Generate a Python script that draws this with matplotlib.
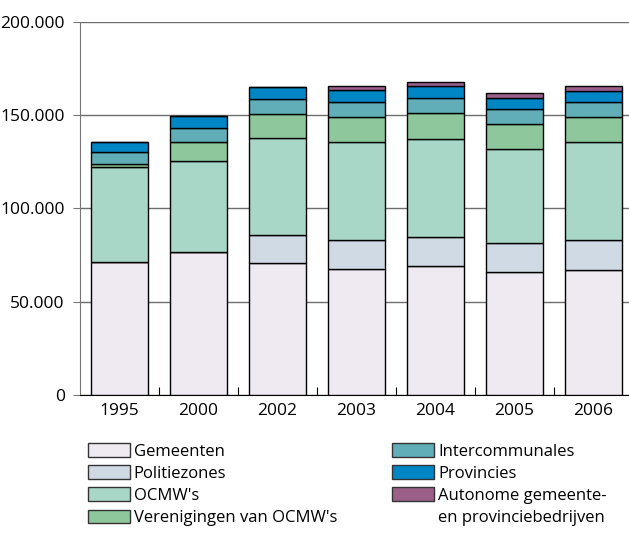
import numpy as np
import matplotlib
matplotlib.use("Agg")
import matplotlib.pyplot as plt
from matplotlib.patches import Patch
from matplotlib.ticker import FuncFormatter

plt.rcParams['font.family'] = ['Open Sans', 'DejaVu Sans']

years = ['1995', '2000', '2002', '2003', '2004', '2005', '2006']

gemeenten = [71400, 76750, 70700, 67350, 68950, 65900, 66950]
politiezones = [0, 0, 15150, 15700, 15700, 15700, 16250]
ocmws = [50750, 48450, 52000, 52650, 52750, 50200, 52150]
verenigingen = [1850, 10500, 12500, 13050, 13500, 13400, 13400]
intercommunales = [6200, 7500, 8100, 8200, 8200, 8000, 8350]
provincies = [5350, 6250, 6550, 6300, 6450, 6050, 5900]
autonome = [0, 0, 0, 2150, 2100, 2350, 2550]

series = [
    ("Gemeenten", gemeenten, '#efe9f2'),
    ("Politiezones", politiezones, '#d0dae4'),
    ("OCMW's", ocmws, '#a8d6c7'),
    ("Verenigingen van OCMW's", verenigingen, '#8ec79c'),
    ("Intercommunales", intercommunales, '#61aeb9'),
    ("Provincies", provincies, '#0086c5'),
    ("Autonome gemeente-", autonome, '#9a608a'),
]

fig = plt.figure(figsize=(6.29, 5.41), dpi=100)
ax = fig.add_axes([80 / 629, 1 - 395 / 541, 1 - 80 / 629, (395 - 21.7) / 541])

x = np.arange(len(years))
bottom = np.zeros(len(years))
handles = []
for name, vals, col in series:
    vals = np.array(vals, dtype=float)
    ax.bar(x, vals, 0.72, bottom=bottom, color=col, edgecolor='black',
           linewidth=1.0, zorder=3)
    bottom += vals
    handles.append(Patch(facecolor=col, edgecolor='#333333', linewidth=1.0, label=name))
handles.append(Patch(facecolor='none', edgecolor='none', label='en provinciebedrijven'))

ax.set_xlim(-0.5, 6.45)
ax.set_ylim(0, 200000)
ax.set_yticks([0, 50000, 100000, 150000, 200000])
ax.yaxis.set_major_formatter(FuncFormatter(lambda v, p: f"{int(v):,}".replace(",", ".")))
ax.grid(axis='y', color='#6e6e6e', linewidth=1.0, zorder=0)

for s in ['top', 'right']:
    ax.spines[s].set_visible(False)
ax.spines['left'].set_color('#777777')
ax.spines['bottom'].set_color('black')

ax.set_xticks(x[:-1] + 0.5)
ax.set_xticklabels([])
ax.set_xticks(x, minor=True)
ax.set_xticklabels(years, minor=True)
ax.tick_params(axis='x', which='major', direction='in', length=6, color='black')
ax.tick_params(axis='x', which='minor', length=0, labelsize=12.5, pad=6)
ax.tick_params(axis='y', direction='out', length=5, color='#777777', labelsize=12.5, pad=6)

fig.legend(handles=handles, ncol=2, loc='upper left',
           bbox_to_anchor=(88 / 629, 1 - 443 / 541), frameon=False,
           fontsize=12, handlelength=2.5, handleheight=0.9,
           handletextpad=0.25, labelspacing=0.33, columnspacing=3.3,
           borderpad=0, borderaxespad=0)

plt.savefig('out.png', dpi=100)
